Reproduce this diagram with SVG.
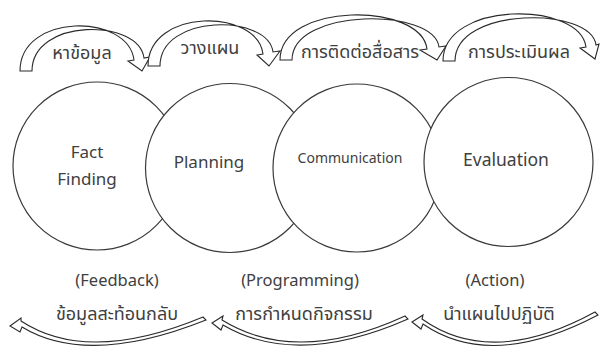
<svg xmlns="http://www.w3.org/2000/svg" width="600" height="349" viewBox="0 0 600 349">
<style>
.c{fill:#fff;stroke:#3a3a3a;stroke-width:1.2}
.a{fill:#fff;stroke:#2a2a2a;stroke-width:1.1;stroke-linejoin:miter}
.en{font-family:"Noto Sans","Open Sans",sans-serif;fill:#404040;text-anchor:middle}
.th{font-family:"Noto Sans Thai","Tahoma","DejaVu Sans",sans-serif;fill:#404040;text-anchor:middle;font-size:18px}
</style>
<rect width="600" height="349" fill="#fff"/>
<g id="connectors">
<path class="a" d="M20,71 C20,12.8 128,12.8 134,60 L128,61 L142,71 L150,57 L144,58 C139,18 32,18 32,71 Z"/>
<path class="a" d="M148,66 C148,8 257,8 263,54 L257,55 L269,66 L280,51 L273,52 C268,13.7 160,13.7 160,66 Z"/>
<path class="a" d="M280,60 C280,1.8 421,1.8 427,49 L420,50 L437,60 L446,46 L439,47 C434,7.5 292,7.5 292,60 Z"/>
<path class="a" d="M443,61 C443,0.7 580,0.7 586,47 L580,48 L595,59 L599,44 L596,45 C591,6.3 455,6.3 455,61 Z"/>
<path class="a" d="M10,326 L21,318 L21,321 Q88,365 203,317 L206,320 Q88,367 22,327 L20,332 Z"/>
<path class="a" d="M212,323 L223,316 L222,320 Q296.5,366 405,316 L408,319 Q296.5,368 223,325 L221,330 Z"/>
<path class="a" d="M412,322 L423,315 L422,319 Q491.5,368.5 595,312 L598,315 Q491.5,371 423,324 L421,329 Z"/>
</g>
<g id="top-labels">
<text class="th" x="82" y="59">หาข้อมูล</text>
<text class="th" x="210" y="54">วางแผน</text>
<text class="th" x="360" y="58">การติดต่อสื่อสาร</text>
<text class="th" x="519" y="58">การประเมินผล</text>
</g>
<g id="fact-finding">
<circle class="c" cx="97" cy="166" r="84"/>
<text class="en" x="87" y="158" font-size="17">Fact</text>
<text class="en" x="87" y="185" font-size="17">Finding</text>
</g>
<g id="planning">
<circle class="c" cx="230" cy="168" r="84.5"/>
<text class="en" x="209" y="168" font-size="17">Planning</text>
</g>
<g id="communication">
<circle class="c" cx="357" cy="168" r="84"/>
<text class="en" x="350" y="163" font-size="14">Communication</text>
</g>
<g id="evaluation">
<circle class="c" cx="508.5" cy="162" r="84.5"/>
<text class="en" x="506" y="166" font-size="17.5">Evaluation</text>
</g>
<g id="bottom-labels">
<text class="en" x="117" y="286" font-size="16.5">(Feedback)</text>
<text class="th" x="117" y="320">ข้อมูลสะท้อนกลับ</text>
<text class="en" x="300" y="286" font-size="16.5">(Programming)</text>
<text class="th" x="304" y="320">การกำหนดกิจกรรม</text>
<text class="en" x="495" y="286" font-size="16.5">(Action)</text>
<text class="th" x="499" y="320">นำแผนไปปฏิบัติ</text>
</g>
</svg>
